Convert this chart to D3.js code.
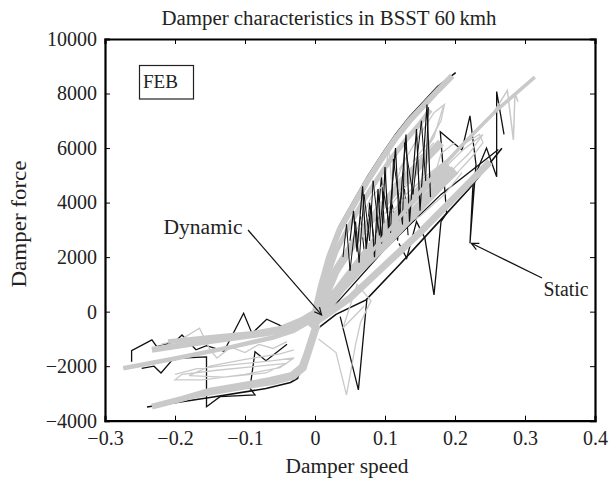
<!doctype html>
<html lang="en">
<head>
 <meta charset="utf-8">
 <script src="https://cdn.jsdelivr.net/npm/d3@7"></script>
 <title>Damper characteristics</title>
 <style>
  body { margin: 0; background: #fff; }
  svg text { font-family: "Liberation Serif", "DejaVu Serif", serif; fill: #222; }
  .axis path, .axis line { stroke: #000; }
  .axis text { font-size: 20px; }
 </style>
</head>
<body>
<div id="chart"></div>
<script>
    // axis ticks
    var xTicks = [-0.3, -0.2, -0.1, 0, 0.1, 0.2, 0.3, 0.4];
    var yTicks = [-4000, -2000, 0, 2000, 4000, 6000, 8000, 10000];

    // dynamic runs (grey): [speed, force]
    var dynUpperBand = [[-0.01,-300],[0,0],[0.008,900],[0.02,2000],[0.035,3000],[0.055,3900],[0.075,4800],
        [0.095,5600],[0.115,6350],[0.135,7000],[0.155,7550],[0.175,8100],[0.196,8650]];
    var dynUpperBand2 = [[0,-200],[0.012,900],[0.03,2200],[0.05,3200],[0.07,4100],[0.09,4900],[0.11,5650],
        [0.13,6300],[0.15,6900],[0.165,7400]];
    var dynFill1 = [[0.005,0],[0.03,1500],[0.06,2700],[0.09,3700],[0.12,4600],[0.15,5400],[0.18,6200]];
    var dynFill2 = [[0.01,-100],[0.04,1000],[0.07,2000],[0.1,3000],[0.13,3900],[0.16,4700],[0.19,5400]];
    var dynMainLine = [[0,-200],[0.04,900],[0.1,2800],[0.16,4700],[0.21,6100],[0.26,7400],[0.314,8600]];
    var dynMidBand = [[-0.01,-500],[0.02,400],[0.06,1500],[0.1,2500],[0.14,3600],[0.18,4700],[0.2,5200]];
    var dynLowerBand = [[0,-400],[0.05,500],[0.1,1700],[0.15,2900],[0.2,4200],[0.25,5500]];
    var dynLeftA = [[-0.274,-2077],[-0.2,-1720],[-0.12,-1300],[-0.06,-950],[-0.03,-700],[-0.01,-400],[0.005,0]];
    var dynLeftB = [[-0.233,-1400],[-0.17,-1150],[-0.1,-900],[-0.05,-720],[-0.025,-450],[-0.005,-100]];
    var dynLeftC = [[-0.21,-1100],[-0.15,-950],[-0.09,-800],[-0.05,-620],[-0.02,-300],[0,0]];
    var dynLowerLeft = [[-0.233,-3485],[-0.19,-3200],[-0.15,-2900],[-0.1,-2680],[-0.064,-2505],[-0.033,-2320],
        [-0.019,-2017],[-0.012,-1526],[-0.005,-976],[0.002,-425],[0.01,0]];
    var dynLowerLeft2 = [[-0.2,-3250],[-0.15,-3000],[-0.1,-2780],[-0.06,-2620],[-0.03,-2420],[-0.015,-2100],
        [-0.005,-1300],[0.005,-500]];
    var dynLoopsLeft = [[-0.2,-2300],[-0.17,-2100],[-0.12,-1950],[-0.06,-1800],[-0.03,-1700],[-0.05,-2050],
        [-0.1,-2300],[-0.16,-2500],[-0.2,-2500],[-0.19,-2300],[-0.14,-2150],[-0.08,-2000],[-0.04,-1900],
        [-0.07,-2250],[-0.13,-2400],[-0.18,-2350],[-0.15,-2000],[-0.1,-1750],[-0.05,-1550],[-0.03,-1400]];
    var dynJagLeft = [[-0.22,-1200],[-0.19,-1000],[-0.165,-610],[-0.15,-1400],[-0.14,-1700],[-0.12,-1300],
        [-0.1,-1500],[-0.08,-1200],[-0.06,-1350],[-0.04,-1100]];
    var dynSpikeMid = [[0.005,-1000],[0.03,-1500],[0.045,-3050],[0.058,-1200],[0.065,-400],[0.08,400],
        [0.06,1000],[0.04,-600],[0.07,200]];
    var dynLoopsRight = [[0.06,3000],[0.08,4200],[0.1,4700],[0.105,6100],[0.11,4600],[0.13,5100],[0.15,5600],
        [0.17,6400],[0.183,7520],[0.175,6800],[0.16,6000],[0.14,4900],[0.12,4300],[0.1,3600],[0.13,4000],
        [0.16,4600],[0.19,5400],[0.21,5900],[0.23,6300],[0.24,6500],[0.22,5800],[0.2,5300],[0.17,4300]];
    var dynLoopsRight2 = [[0.07,2600],[0.09,3800],[0.11,4300],[0.125,5400],[0.135,4700],[0.15,5200],
        [0.165,5900],[0.155,5000],[0.14,4200],[0.12,3500],[0.145,3900],[0.17,4900],[0.18,5800],[0.2,6200]];
    var dynLoopsRight3 = [[0.1,3300],[0.13,4300],[0.16,5000],[0.19,5600],[0.215,6200],[0.235,6500],[0.24,6200],
        [0.225,5700],[0.2,5000],[0.17,4400],[0.14,3800],[0.12,3100],[0.15,3500],[0.185,4300],[0.21,5100]];
    var dynLoopsRight4 = [[0.12,5200],[0.15,6500],[0.17,7300],[0.185,7600],[0.18,7000],[0.165,6300],
        [0.14,5500],[0.155,5800],[0.17,6200]];
    var dynZigRight = [[0.25,7100],[0.2748,8110],[0.2834,6300],[0.2857,8010],[0.29,7700]];

    // static runs (black)
    var staUpperEdge = [[-0.01,-350],[0,-50],[0.008,1000],[0.02,2150],[0.035,3150],[0.055,4050],[0.075,4950],
        [0.095,5750],[0.115,6500],[0.135,7150],[0.155,7700],[0.175,8250],[0.201,8770]];
    var staLowerLine = [[0,-700],[0.03,-100],[0.073,430],[0.12,1700],[0.17,3100],[0.22,4500],[0.267,5990]];
    var staLowerLine2 = [[0.02,0],[0.1,2300],[0.18,4300],[0.262,5950]];
    var staSpikes = [[0.05,2600],[0.055,3700],[0.06,2200],[0.068,4600],[0.073,2300],[0.08,3900],[0.085,2000],
        [0.09,4500],[0.095,2500],[0.1,5300],[0.105,3000],[0.115,6000],[0.12,3400],[0.13,6500],[0.135,3300],
        [0.145,6700],[0.15,3700],[0.16,7600],[0.165,4200]];
    var staSpikes2 = [[0.04,2000],[0.045,3200],[0.05,1500],[0.058,3300],[0.063,1800],[0.07,4300],[0.078,2600],
        [0.083,4800],[0.092,2800],[0.098,4400],[0.108,2900],[0.112,5600],[0.125,3200],[0.128,6200],
        [0.14,4300],[0.152,7000],[0.158,4800],[0.162,7500]];
    var staSpikes3 = [[0.065,3500],[0.072,1800],[0.078,4000],[0.086,2200],[0.095,5000],[0.1,2600],[0.11,4000],
        [0.118,2600],[0.126,5100],[0.133,2800]];
    var staZigRight = [[0.12,2500],[0.131,1960],[0.145,3300],[0.157,2690],[0.17,614],[0.18,3300],[0.188,3610],
        [0.179,6600],[0.21,5930],[0.2214,7180],[0.23,5400],[0.2214,2509],[0.226,4830],[0.245,6000],
        [0.2595,4950],[0.2595,8070],[0.27,6500]];
    var staSpikeMid = [[0.036,-180],[0.062,-2870],[0.074,430]];
    var staZigLeft = [[-0.262,-1834],[-0.262,-1430],[-0.233,-1038],[-0.226,-1284],[-0.2167,-1222],[-0.2,-1100],
        [-0.19,-855],[-0.17,-1400],[-0.155,-1250],[-0.13,-1450],[-0.102,-59],[-0.09,-800],[-0.069,-280],
        [-0.05,-500],[-0.03,-600]];
    var staZigLower = [[-0.2476,-2077],[-0.23,-2000],[-0.22,-2250],[-0.205,-1800],[-0.19,-1700],[-0.155,-1660],
        [-0.155,-3485],[-0.1357,-3118],[-0.0857,-3056],[-0.0929,-2810],[-0.0857,-1467],[-0.07,-1800],[-0.04,-1200]];
    var staLowerLeftEdge = [[-0.24,-3500],[-0.15,-3150],[-0.07,-2820],[-0.035,-2600],[-0.025,-2450],
        [-0.015,-1700],[-0.008,-1000],[0,-500]];

    var W = 612, H = 481;
    var margin = {left: 105, right: 17, top: 39, bottom: 60.3};

    var svg = d3.select("#chart").append("svg")
        .attr("width", W)
        .attr("height", H);

    var x = d3.scaleLinear().domain([-0.3, 0.4]).range([margin.left, W - margin.right]);
    var y = d3.scaleLinear().domain([-4000, 10000]).range([H - margin.bottom, margin.top]);

    var line = d3.line()
        .x(function (d) { return x(d[0]); })
        .y(function (d) { return y(d[1]); });

    var plot = svg.append("g");

    function draw(data, color, width) {
        plot.append("path")
            .datum(data)
            .attr("d", line)
            .attr("fill", "none")
            .attr("stroke", color)
            .attr("stroke-width", width)
            .attr("stroke-linejoin", "miter");
    }

    var black = "#111", grey = "#c9c9c9";

    // black under grey
    draw(staUpperEdge, black, 1.6);
    draw(staLowerLine, black, 1.6);
    draw(staLowerLine2, black, 1.3);
    draw(staZigRight, black, 1.3);
    draw(staSpikeMid, black, 1.3);
    draw(staZigLeft, black, 1.3);
    draw(staZigLower, black, 1.3);
    draw(staLowerLeftEdge, black, 1.6);
    draw(staSpikes3, black, 1.1);

    draw(dynFill2, grey, 10);
    draw(dynFill1, grey, 8);
    draw(dynUpperBand, grey, 6);
    draw(dynUpperBand2, grey, 5);
    draw(dynMidBand, grey, 10);
    draw(dynLowerBand, grey, 7);
    draw(dynLeftA, grey, 4.5);
    draw(dynLeftB, grey, 6);
    draw(dynLeftC, grey, 5);
    draw(dynLowerLeft, grey, 6);
    draw(dynLowerLeft2, grey, 4);
    draw(dynLoopsLeft, grey, 1.3);
    draw(dynJagLeft, grey, 1.3);
    draw(dynSpikeMid, grey, 1.3);
    draw(dynLoopsRight, grey, 1.3);
    draw(dynLoopsRight2, grey, 1.3);
    draw(dynLoopsRight3, grey, 1.3);
    draw(dynLoopsRight4, grey, 1.3);
    draw(dynZigRight, grey, 1.5);

    // spikes partly over the grey
    draw(staSpikes, black, 1.2);
    draw(staSpikes2, black, 1);
    draw(dynMainLine, grey, 3.5);

    // axes, ticks pointing inward
    svg.append("g").attr("class", "axis")
        .attr("transform", "translate(0," + y(-4000) + ")")
        .call(d3.axisBottom(x).tickValues(xTicks).tickSize(-5).tickPadding(10)
            .tickFormat(function (d) { return d === 0 ? "0" : d3.format(".1f")(d).replace("-", "\u2212"); }));
    svg.append("g").attr("class", "axis")
        .attr("transform", "translate(0," + y(10000) + ")")
        .call(d3.axisTop(x).tickValues(xTicks).tickSize(-5).tickFormat(""));
    svg.append("g").attr("class", "axis")
        .attr("transform", "translate(" + x(-0.3) + ",0)")
        .call(d3.axisLeft(y).tickValues(yTicks).tickSize(-5).tickPadding(8)
            .tickFormat(function (d) { return String(d).replace("-", "\u2212"); }));
    svg.append("g").attr("class", "axis")
        .attr("transform", "translate(" + x(0.4) + ",0)")
        .call(d3.axisRight(y).tickValues(yTicks).tickSize(-5).tickFormat(""));
    svg.selectAll(".axis path").attr("stroke-width", 2.2);
    svg.selectAll(".axis .tick line").attr("stroke-width", 1);

    // titles
    function label(tx, ty, txt, len, rot) {
        var t = svg.append("text")
            .attr("text-anchor", "middle")
            .attr("transform", "translate(" + tx + "," + ty + ")" + (rot ? " rotate(-90)" : ""))
            .attr("textLength", len)
            .attr("lengthAdjust", "spacingAndGlyphs")
            .style("font-size", "20px")
            .text(txt);
        return t;
    }
    label(329, 25, "Damper characteristics in BSST 60\u2009kmh", 335);
    label(347, 473, "Damper speed", 123);
    label(26, 224, "Damper force", 127, true);

    // FEB box
    svg.append("rect")
        .attr("x", 139.5).attr("y", 65.5).attr("width", 54).attr("height", 33.5)
        .attr("fill", "#fff").attr("stroke", "#222").attr("stroke-width", 1.2);
    svg.append("text")
        .attr("x", 143).attr("y", 88)
        .attr("textLength", 35)
        .attr("lengthAdjust", "spacingAndGlyphs")
        .style("font-size", "19px")
        .text("FEB");

    // annotations
    var notes = [
        {label: "Dynamic", tx: 203, ty: 234, len: 79, from: [248, 230], to: [0.0094, -120]},
        {label: "Static", tx: 566, ty: 296, len: 45, from: [542, 278], to: [0.2234, 2509]}
    ];
    notes.forEach(function (n) {
        var x2 = x(n.to[0]), y2 = y(n.to[1]);
        svg.append("line")
            .attr("x1", n.from[0]).attr("y1", n.from[1])
            .attr("x2", x2).attr("y2", y2)
            .attr("stroke", "#111").attr("stroke-width", 1.2);
        var a = Math.atan2(y2 - n.from[1], x2 - n.from[0]);
        var hl = 8, hw = 0.45;
        svg.append("path")
            .attr("d", "M" + (x2 - hl * Math.cos(a - hw)) + "," + (y2 - hl * Math.sin(a - hw)) +
                "L" + x2 + "," + y2 +
                "L" + (x2 - hl * Math.cos(a + hw)) + "," + (y2 - hl * Math.sin(a + hw)))
            .attr("fill", "none").attr("stroke", "#111").attr("stroke-width", 1.2);
        label(n.tx, n.ty, n.label, n.len);
    });
</script>
</body>
</html>
